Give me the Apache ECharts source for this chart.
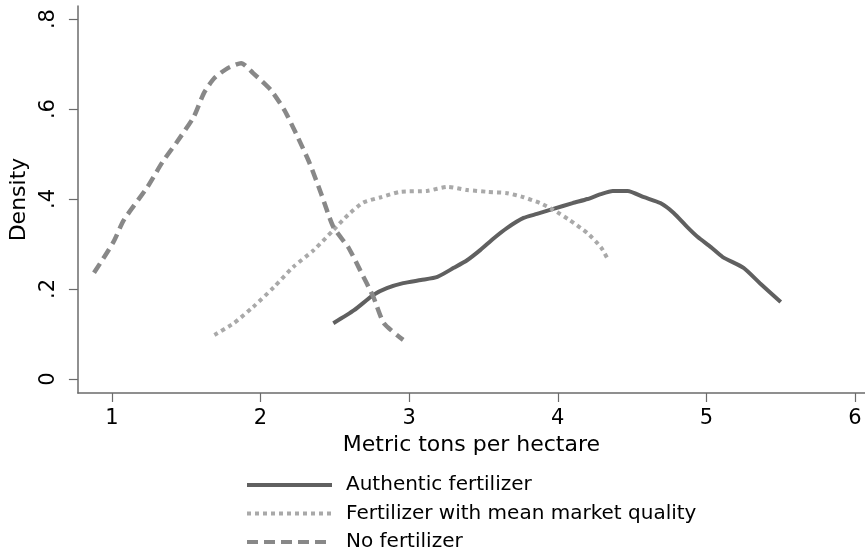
<!DOCTYPE html>
<html>
<head>
<meta charset="utf-8">
<script src="https://cdn.jsdelivr.net/npm/echarts@6/dist/echarts.min.js"></script>
<style>
  html, body { margin: 0; padding: 0; background: #fff; }
  #chart { width: 865px; height: 557px; }
</style>
</head>
<body>
<div id="chart"></div>
<script>
// tick values
var xTicks = [1, 2, 3, 4, 5, 6]
var yTicks = [0, 0.2, 0.4, 0.6, 0.8]

var seriesNames = ['Authentic fertilizer', 'Fertilizer with mean market quality', 'No fertilizer']

// density curves, [metric tons per hectare, density]
var authentic = [
  [2.49, 0.124], [2.63, 0.153], [2.76, 0.187], [2.85, 0.202], [2.96, 0.213],
  [3.08, 0.220], [3.19, 0.227], [3.30, 0.247], [3.39, 0.264], [3.48, 0.287],
  [3.57, 0.313], [3.66, 0.336], [3.77, 0.358], [3.86, 0.367], [3.97, 0.378],
  [4.10, 0.391], [4.20, 0.400], [4.29, 0.411], [4.37, 0.418], [4.47, 0.418],
  [4.58, 0.404], [4.69, 0.391], [4.78, 0.369], [4.87, 0.338], [4.94, 0.316],
  [5.03, 0.293], [5.11, 0.271], [5.25, 0.247], [5.36, 0.213], [5.50, 0.171]
]
var meanQuality = [
  [1.69, 0.098], [1.82, 0.124], [1.95, 0.160], [2.09, 0.204], [2.22, 0.249],
  [2.36, 0.287], [2.49, 0.331], [2.59, 0.365], [2.69, 0.392], [2.81, 0.404],
  [2.94, 0.416], [3.12, 0.418], [3.26, 0.427], [3.39, 0.420], [3.53, 0.416],
  [3.66, 0.413], [3.77, 0.404], [3.88, 0.391], [3.97, 0.376], [4.08, 0.353],
  [4.20, 0.324], [4.29, 0.293], [4.34, 0.264]
]
var noFertilizer = [
  [0.88, 0.236], [1.01, 0.304], [1.08, 0.353], [1.24, 0.427], [1.34, 0.482],
  [1.44, 0.528], [1.55, 0.582], [1.62, 0.636], [1.69, 0.669], [1.78, 0.691],
  [1.87, 0.702], [1.95, 0.680], [2.07, 0.642], [2.16, 0.598], [2.25, 0.538],
  [2.33, 0.480], [2.41, 0.410], [2.49, 0.338], [2.59, 0.293], [2.67, 0.242],
  [2.76, 0.182], [2.83, 0.124], [2.96, 0.087]
]

var font = 'DejaVu Sans'
var axisColor = '#6b6b6b'

var chart = echarts.init(document.getElementById('chart'))

function curve(name, data, color, width, dash) {
  return {
    name: name,
    type: 'line',
    data: data,
    smooth: 0.2,
    symbol: 'none',
    showSymbol: false,
    animation: false,
    lineStyle: { color: color, width: width, type: dash, cap: 'butt' },
    itemStyle: { color: color }
  }
}

chart.setOption({
  animation: false,
  grid: { left: 77, right: 0, top: 6, bottom: 164, containLabel: false },
  xAxis: {
    type: 'value',
    min: 0.7715,
    max: 6.067,
    name: 'Metric tons per hectare',
    nameLocation: 'middle',
    nameGap: 34,
    nameTextStyle: { fontFamily: font, fontSize: 22, color: '#000' },
    axisLine: { show: true, onZero: false, lineStyle: { color: axisColor, width: 1.5 } },
    axisTick: { show: true, length: 9, customValues: xTicks, lineStyle: { color: axisColor, width: 1.2 } },
    axisLabel: { customValues: xTicks, margin: 15, fontFamily: font, fontSize: 21, color: '#000' },
    splitLine: { show: false }
  },
  yAxis: {
    type: 'value',
    min: -0.0311,
    max: 0.829,
    name: 'Density',
    nameLocation: 'middle',
    nameGap: 44,
    nameTextStyle: { fontFamily: font, fontSize: 22, color: '#000' },
    axisLine: { show: true, onZero: false, lineStyle: { color: axisColor, width: 1.5 } },
    axisTick: { show: true, length: 9, customValues: yTicks, lineStyle: { color: axisColor, width: 1.2 } },
    axisLabel: {
      customValues: yTicks,
      rotate: 90,
      margin: 19,
      fontFamily: font,
      fontSize: 21,
      color: '#000',
      formatter: function (v) {
        return v === 0 ? '0' : String(+v.toFixed(1)).replace(/^0/, '')
      }
    },
    splitLine: { show: false }
  },
  legend: {
    orient: 'vertical',
    left: 245,
    top: 475,
    padding: 0,
    itemWidth: 85,
    itemHeight: 20,
    itemGap: 8.5,
    data: seriesNames,
    itemStyle: { opacity: 0 },
    lineStyle: { width: 4 },
    textStyle: { fontFamily: font, fontSize: 20, color: '#000', padding: [0, 0, 0, 9] }
  },
  series: [
    curve(seriesNames[0], authentic, '#606060', 4, 'solid'),
    curve(seriesNames[1], meanQuality, '#a9a9a9', 4, [4, 4]),
    curve(seriesNames[2], noFertilizer, '#888888', 4.5, [11, 6])
  ]
})
</script>
</body>
</html>
